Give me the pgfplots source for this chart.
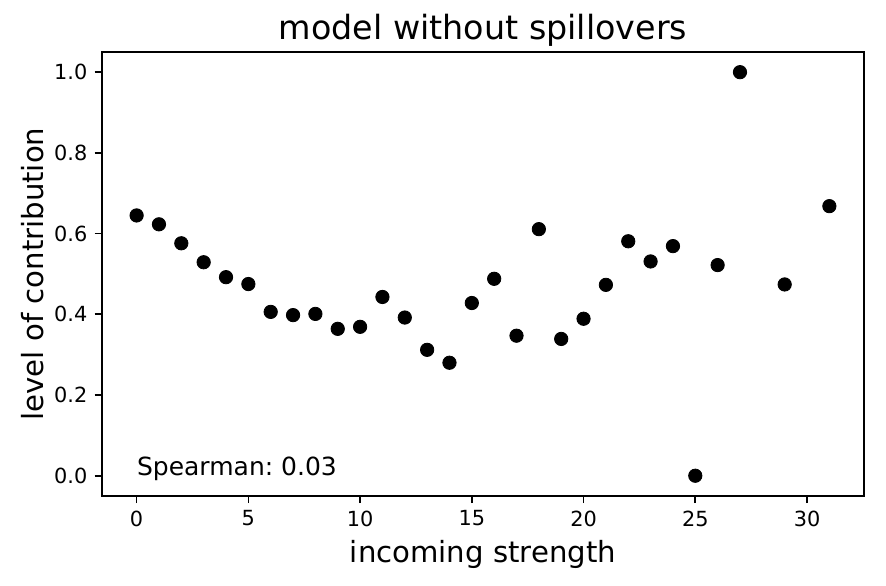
\documentclass[border=0pt]{standalone}
\usepackage{pgfplots}
\pgfplotsset{compat=1.18}
\usepackage{fontspec}
\setmainfont{DejaVu Sans}
\frenchspacing
\begin{document}
\begin{tikzpicture}
\begin{axis}[
  scale only axis,
  width=365.8pt, height=213.1pt,
  xmin=-1.55, xmax=32.55,
  ymin=-0.05, ymax=1.05,
  xtick={0,5,10,15,20,25,30},
  ytick={0,0.2,0.4,0.6,0.8,1.0},
  yticklabel style={/pgf/number format/.cd,fixed,fixed zerofill,precision=1},
  /pgf/number format/assume math mode=true,
  tick align=outside,
  xtick pos=bottom, ytick pos=left,
  major tick length=3.5pt,
  tick style={black, line width=0.8pt},
  axis line style={line width=0.8pt},
  ticklabel style={font=\fontsize{10}{12}\selectfont},
  title={model without spillovers},
  title style={font=\fontsize{16}{19}\selectfont, yshift=-7pt},
  xlabel={incoming strength},
  ylabel={level of contribution},
  label style={font=\fontsize{14}{17}\selectfont},
  xlabel style={yshift=0pt},
  ylabel style={yshift=-2pt},
]
\addplot[only marks, mark=*, mark size=3.2pt, black] coordinates {
(0,0.645) (1,0.623) (2,0.576) (3,0.529) (4,0.492) (5,0.475)
(6,0.406) (7,0.398) (8,0.401) (9,0.364) (10,0.369) (11,0.443)
(12,0.392) (13,0.312) (14,0.280) (15,0.428) (16,0.488) (17,0.347)
(18,0.611) (19,0.339) (20,0.389) (21,0.473) (22,0.581) (23,0.531)
(24,0.569) (25,0.0) (26,0.522) (27,1.0) (29,0.474) (31,0.668)
};
\node[anchor=base west, font=\fontsize{12}{14}\selectfont, inner sep=0pt] at (axis cs:0,0) {Spearman: 0.03};
\end{axis}
\pgfresetboundingbox
\useasboundingbox ([shift={(-48.96pt,-43.2pt)}]current axis.south west) rectangle ([shift={(10.56pt,24.96pt)}]current axis.north east);
\end{tikzpicture}
\end{document}
